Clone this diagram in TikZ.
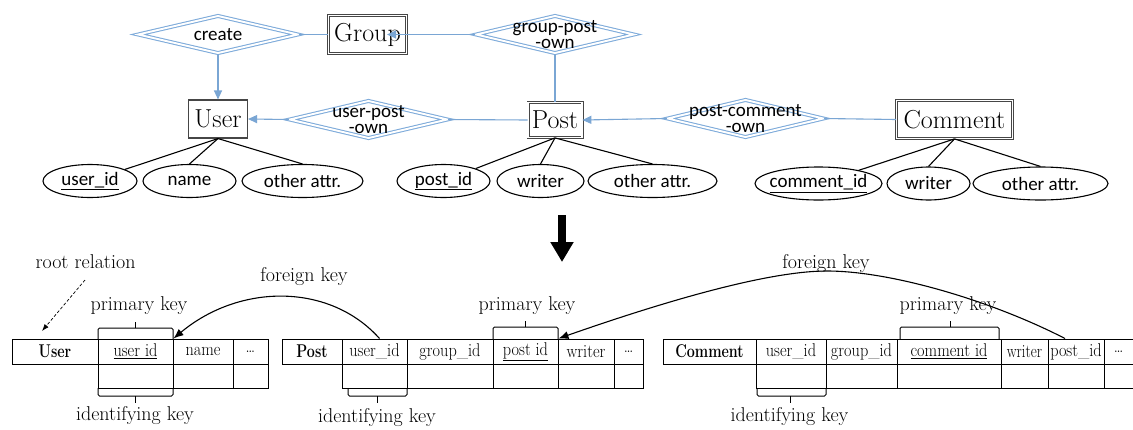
\documentclass[tikz,border=0pt]{standalone}
\usepackage{fontspec}
\usepackage{graphicx}
\newfontfamily\erfont{Carlito}
\usetikzlibrary{shapes.geometric,arrows.meta}
\definecolor{erline}{RGB}{122,166,212}
\definecolor{erdiam}{RGB}{125,170,218}
\definecolor{boxgray}{RGB}{70,70,70}
% condensed text used in the relation tables
\newcommand{\celltxt}[1]{\scalebox{0.88}[1]{#1}}
\newcommand{\headtxt}[1]{\scalebox{0.77}[1]{\bfseries #1}}

\begin{document}
\begin{tikzpicture}[x=1pt,y=-1pt,
  erconn/.style={draw=erline, line width=1.1pt},
  ertip/.style={-{Triangle[length=9pt,width=8pt]}},
  relship/.style={diamond, draw=erdiam, double=white, double distance=1.9pt,
    line width=1.05pt, inner sep=0pt, minimum height=37.5pt},
  ertext/.style={font=\erfont\fontsize{19}{16}\selectfont, align=center, inner sep=0pt},
  entity/.style={rectangle, draw=boxgray, line width=1.1pt, inner sep=0pt,
    font=\fontsize{26}{26}\selectfont},
  weak/.style={entity, double=white, double distance=1.4pt, line width=0.8pt},
  attr/.style={ellipse, draw=black, line width=1.1pt, inner sep=0pt, minimum height=33pt},
  attrline/.style={draw=black, line width=1.1pt},
  cell/.style={draw=black, line width=1pt, inner sep=0pt, minimum height=25pt,
    font=\fontsize{18.5}{18.5}\selectfont},
  lcell/.style={draw=black, line width=1pt, inner sep=0pt, minimum height=24pt},
  brk/.style={draw=black, line width=1pt, rounded corners=1.5pt},
  keylbl/.style={font=\fontsize{20}{20}\selectfont, inner sep=0pt},
  fk/.style={draw=black, line width=1.1pt, -{Latex[length=10pt,width=8pt]}},
]
\fill[white] (0,0) rectangle (1133,429);
\useasboundingbox (0,0) rectangle (1133,429);

% ---------- ER diagram ----------
\node[relship, minimum width=160pt, label={[ertext]center:create}] (create) at (218,34.5) {};
\node[weak, minimum width=78pt, minimum height=38pt] (group) at (367.5,34.5) {Group};
\node[relship, minimum width=158pt, label={[ertext]center:{group-post\\-own}}] (gpo) at (555,34.5) {};
\node[entity, minimum width=59pt, minimum height=38pt] (user) at (218,119) {User};
\node[relship, minimum width=158pt, label={[ertext]center:{user-post\\-own}}] (upo) at (368.5,119.5) {};
\node[weak, minimum width=54pt, minimum height=35pt] (post) at (555,120) {Post};
\node[relship, minimum width=156pt, label={[ertext]center:{post-comment\\-own}}] (pco) at (745.5,118.5) {};
\node[weak, minimum width=116pt, minimum height=38pt] (comment) at (954.5,119.5) {Comment};
\coordinate (gtip) at (387,34.5);

\draw[erconn] (create.east) -- (group.west);
\draw[erconn, ertip] (create.south) -- (user.north);
\draw[erconn, ertip] (gpo.west) -- (gtip);
\draw[erconn] (gpo.south) -- (post.north);
\draw[erconn, ertip] (upo.west) -- (user.east);
\draw[erconn] (upo.east) -- (post.west);
\draw[erconn, ertip] (pco.west) -- (post.east);
\draw[erconn] (pco.east) -- (comment.west);

% attributes
\node[attr, minimum width=94pt, label={[ertext]center:{\underline{user\_id}}}] (uidA) at (90,181) {};
\node[attr, minimum width=93pt, label={[ertext]center:name}] (nameA) at (189.5,181) {};
\node[attr, minimum width=121pt, label={[ertext]center:other attr.}] (uothA) at (302.5,181) {};
\node[attr, minimum width=93pt, label={[ertext]center:{\underline{post\_id}}}] (pidA) at (443.5,181) {};
\node[attr, minimum width=87pt, label={[ertext]center:writer}] (pwA) at (540.5,181) {};
\node[attr, minimum width=129pt, label={[ertext]center:other attr.}] (pothA) at (652.5,181) {};
\node[attr, minimum width=127pt, label={[ertext]center:{\underline{comment\_id}}}] (cidA) at (818.5,183.5) {};
\node[attr, minimum width=83pt, label={[ertext]center:writer}] (cwA) at (928.5,183.5) {};
\node[attr, minimum width=135pt, label={[ertext]center:other attr.}] (cothA) at (1040.5,183.5) {};

\draw[attrline] (user.south) -- (uidA);
\draw[attrline] (user.south) -- (nameA.north);
\draw[attrline] (user.south) -- (uothA.north);
\draw[attrline] (post.south) -- (pidA);
\draw[attrline] (post.south) -- (pwA.north);
\draw[attrline] (post.south) -- (pothA.north);
\draw[attrline] (comment.south) -- (cidA);
\draw[attrline] (comment.south) -- (cwA.north);
\draw[attrline] (comment.south) -- (cothA.north);

% ---------- transformation arrow ----------
\coordinate (bigA) at (562,215);
\coordinate (bigB) at (562,262);
\draw[line width=8pt, -{Triangle[length=20pt,width=22pt]}] (bigA) -- (bigB);

% ---------- relations ----------
% User
\node[cell, minimum width=86pt] (uH) at (55,351.5) {\headtxt{User}};
\node[cell, minimum width=75pt] (uID) at (135.5,351.5) {\celltxt{\underline{user id}}};
\node[cell, minimum width=60pt] (uName) at (203,351.5) {\celltxt{name}};
\node[cell, minimum width=35pt] (uD) at (250.5,351.5) {\celltxt{\dots}};
\node[lcell, minimum width=75pt] (uIDb) at (135.5,376) {};
\node[lcell, minimum width=60pt] (uNameb) at (203,376) {};
\node[lcell, minimum width=35pt] (uDb) at (250.5,376) {};

% Post
\node[cell, minimum width=60pt] (pH) at (312,351.5) {\headtxt{Post}};
\node[cell, minimum width=65pt] (pUid) at (374.5,351.5) {\celltxt{user\_id}};
\node[cell, minimum width=86pt] (pGid) at (450,351.5) {\celltxt{group\_id}};
\node[cell, minimum width=65pt] (pPid) at (525.5,351.5) {\celltxt{\underline{post id}}};
\node[cell, minimum width=56pt] (pW) at (586,351.5) {\celltxt{writer}};
\node[cell, minimum width=29pt] (pD) at (628.5,351.5) {\celltxt{\dots}};
\node[lcell, minimum width=65pt] (pUidb) at (374.5,376) {};
\node[lcell, minimum width=86pt] (pGidb) at (450,376) {};
\node[lcell, minimum width=65pt] (pPidb) at (525.5,376) {};
\node[lcell, minimum width=56pt] (pWb) at (586,376) {};
\node[lcell, minimum width=29pt] (pDb) at (628.5,376) {};

% Comment
\node[cell, minimum width=93pt] (cH) at (709.5,351.5) {\headtxt{Comment}};
\node[cell, minimum width=70pt] (cUid) at (791,351.5) {\celltxt{user\_id}};
\node[cell, minimum width=71pt] (cGid) at (861.5,351.5) {\celltxt{group\_id}};
\node[cell, minimum width=104pt] (cCid) at (949,351.5) {\celltxt{\underline{comment id}}};
\node[cell, minimum width=47pt] (cW) at (1024.5,351.5) {\scalebox{0.8}[1]{writer}};
\node[cell, minimum width=56pt] (cPid) at (1076,351.5) {\celltxt{post\_id}};
\node[cell, minimum width=29pt] (cD) at (1118.5,351.5) {\celltxt{\dots}};
\node[lcell, minimum width=70pt] (cUidb) at (791,376) {};
\node[lcell, minimum width=71pt] (cGidb) at (861.5,376) {};
\node[lcell, minimum width=104pt] (cCidb) at (949,376) {};
\node[lcell, minimum width=47pt] (cWb) at (1024.5,376) {};
\node[lcell, minimum width=56pt] (cPidb) at (1076,376) {};
\node[lcell, minimum width=29pt] (cDb) at (1118.5,376) {};

% key brackets
\draw[brk] (98,339) -- (98,328) -- (173,328) -- (173,339);
\draw[brk] (135.5,328) -- (135.5,322);
\draw[brk] (98,388) -- (98,396) -- (173,396) -- (173,388);
\draw[brk] (135.5,396) -- (135.5,403);

\draw[brk] (493,339) -- (493,327) -- (558,327) -- (558,339);
\draw[brk] (525.5,327) -- (525.5,321);
\draw[brk] (348,388) -- (348,396) -- (407,396) -- (407,388);
\draw[brk] (377.5,396) -- (377.5,403);

\draw[brk] (900,339) -- (900,327) -- (999,327) -- (999,339);
\draw[brk] (950,327) -- (950,321);
\draw[brk] (757,388) -- (757,396) -- (826,396) -- (826,388);
\draw[brk] (790,396) -- (790,403);

% labels
\node[keylbl] (rootlbl) at (85.5,262) {root relation};
\node[keylbl] (pk1) at (139,306) {primary key};
\node[keylbl] (pk2) at (527,306) {primary key};
\node[keylbl] (pk3) at (948,306) {primary key};
\node[keylbl] (ik1) at (135,416) {identifying key};
\node[keylbl] (ik2) at (377,418) {identifying key};
\node[keylbl] (ik3) at (789.5,417) {identifying key};
\node[keylbl] (fk1lbl) at (304,276.5) {foreign key};
\node[keylbl] (fk2lbl) at (826,264) {foreign key};

\coordinate (rrA) at (85,280);
\coordinate (rrB) at (42,331);
\draw[line width=0.7pt, dash pattern=on 3pt off 2pt, -{Latex[length=7pt,width=5pt]}] (rrA) -- (rrB);

% foreign key references
\draw[fk] ([xshift=5pt]pUid.north) .. controls (330,283) and (240,283) .. (uID.north east);
\draw[fk] ([xshift=-11pt]cPid.north) .. controls (990,300) and (890,271) .. (827,271)
  .. controls (760,271) and (640,310) .. (pPid.north east);
\end{tikzpicture}
\end{document}
